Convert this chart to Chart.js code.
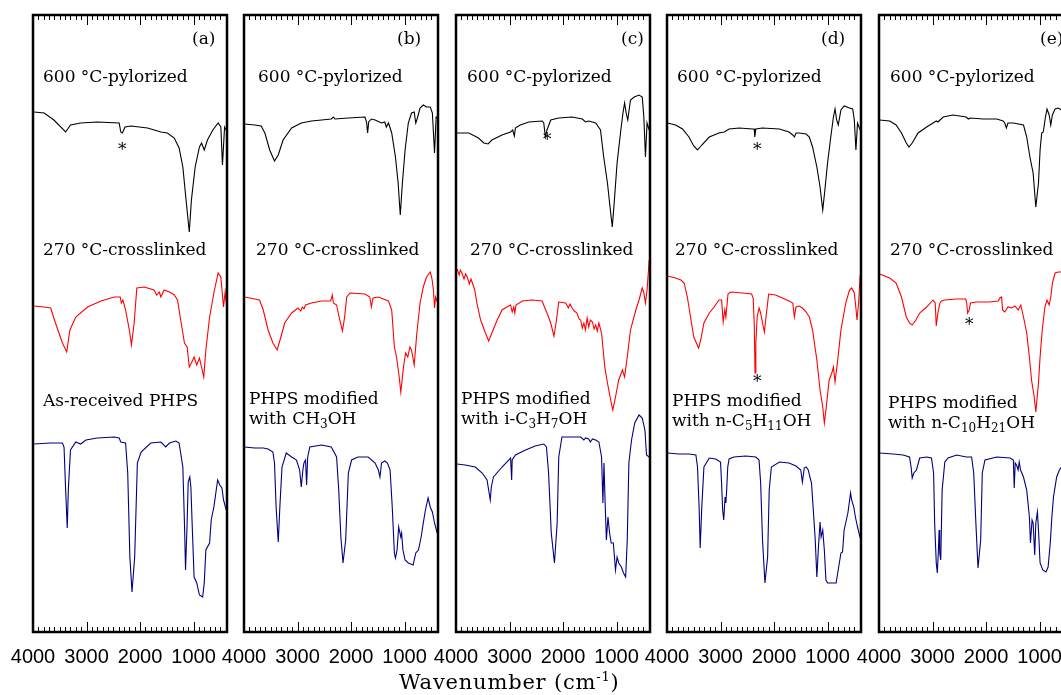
<!DOCTYPE html>
<html>
<head>
<meta charset="utf-8">
<script src="https://cdn.jsdelivr.net/npm/chart.js@4.4.1/dist/chart.umd.min.js"></script>
<style>
body { margin: 0; width: 1061px; height: 695px; overflow: hidden; background: #fff; position: relative; }
canvas.panel { position: absolute; top: 0; }
.lbl { position: absolute; font: 17px/20px 'DejaVu Serif'; white-space: nowrap; color: #000; }
.lbl sub { font-size: 12px; vertical-align: -4px; line-height: 0; }
.title { position: absolute; left: 399px; top: 670px; font: 21px/24px 'DejaVu Serif'; letter-spacing: 0.8px; white-space: nowrap; }
.title sup { font-size: 13px; vertical-align: 8px; line-height: 0; }
</style>
</head>
<body>
<canvas class="panel" id="pa" width="254" height="695"></canvas>
<canvas class="panel" id="pb" width="254" height="695"></canvas>
<canvas class="panel" id="pc" width="254" height="695"></canvas>
<canvas class="panel" id="pd" width="254" height="695"></canvas>
<canvas class="panel" id="pe" width="254" height="695"></canvas>

<div class="lbl" style="left:192px;top:28px">(a)</div>
<div class="lbl" style="left:397px;top:28px">(b)</div>
<div class="lbl" style="left:621px;top:28px">(c)</div>
<div class="lbl" style="left:821px;top:28px">(d)</div>
<div class="lbl" style="left:1040px;top:28px">(e)</div>

<div class="lbl" style="left:43px;top:66px">600 °C-pylorized</div>
<div class="lbl" style="left:258px;top:66px">600 °C-pylorized</div>
<div class="lbl" style="left:467px;top:66px">600 °C-pylorized</div>
<div class="lbl" style="left:677px;top:66px">600 °C-pylorized</div>
<div class="lbl" style="left:890px;top:66px">600 °C-pylorized</div>

<div class="lbl" style="left:43px;top:239px">270 °C-crosslinked</div>
<div class="lbl" style="left:256px;top:239px">270 °C-crosslinked</div>
<div class="lbl" style="left:470px;top:239px">270 °C-crosslinked</div>
<div class="lbl" style="left:675px;top:239px">270 °C-crosslinked</div>
<div class="lbl" style="left:890px;top:239px">270 °C-crosslinked</div>

<div class="lbl" style="left:43px;top:390px">As-received PHPS</div>
<div class="lbl" style="left:249px;top:388px">PHPS modified<br>with CH<sub>3</sub>OH</div>
<div class="lbl" style="left:461px;top:388px">PHPS modified<br>with i-C<sub>3</sub>H<sub>7</sub>OH</div>
<div class="lbl" style="left:672px;top:390px">PHPS modified<br>with n-C<sub>5</sub>H<sub>11</sub>OH</div>
<div class="lbl" style="left:888px;top:392px">PHPS modified<br>with n-C<sub>10</sub>H<sub>21</sub>OH</div>

<div class="lbl" style="left:118px;top:139px">*</div>
<div class="lbl" style="left:543px;top:129px">*</div>
<div class="lbl" style="left:753px;top:139px">*</div>
<div class="lbl" style="left:753px;top:371px">*</div>
<div class="lbl" style="left:965px;top:314px">*</div>

<div class="title">Wavenumber (cm<sup>-1</sup>)</div>

<script>
// wavenumber (cm-1), offset transmittance (a.u.)
const blackA = [[3980,52.0],[3790,51.9],[3610,51.2],[3390,50.0],[3300,50.7],[3110,50.9],[2800,51.0],[2390,50.9],[2360,50.0],[2330,49.9],[2280,50.5],[2170,50.6],[1860,50.4],[1610,50.0],[1490,49.9],[1360,49.4],[1270,48.4],[1200,46.5],[1140,43.2],[1080,40.0],[1040,43.2],[970,46.5],[890,48.5],[850,48.9],[800,48.2],[740,49.2],[640,50.2],[540,50.9],[490,50.5],[460,46.7],[420,50.5],[390,50.2]];
const redA = [[3980,32.6],[3790,32.5],[3670,32.4],[3580,30.9],[3450,28.9],[3370,28.0],[3310,30.2],[3200,31.5],[2980,32.5],[2730,33.1],[2480,33.5],[2370,33.5],[2350,32.9],[2320,33.2],[2270,32.2],[2200,30.2],[2160,28.7],[2110,30.9],[2060,34.4],[1920,34.5],[1740,34.2],[1690,33.7],[1640,34.0],[1610,33.5],[1550,34.2],[1450,34.0],[1360,33.7],[1300,33.2],[1240,31.2],[1170,28.9],[1120,28.5],[1080,26.5],[1040,26.9],[990,27.5],[940,26.7],[890,27.4],[850,26.5],[810,25.5],[770,28.2],[700,31.5],[610,34.2],[540,35.9],[490,35.5],[440,32.5],[410,34.0],[380,32.5]];
const blueA = [[3980,18.8],[3670,18.9],[3450,18.9],[3420,18.5],[3390,14.2],[3360,10.4],[3340,14.2],[3300,18.2],[3200,19.0],[3110,18.8],[3010,19.2],[2800,19.4],[2480,19.5],[2390,19.4],[2360,19.0],[2270,18.9],[2230,15.9],[2190,7.5],[2150,4.0],[2100,7.5],[2050,16.9],[1980,18.0],[1800,18.9],[1610,19.0],[1520,18.5],[1450,18.9],[1330,19.1],[1270,18.9],[1200,16.5],[1170,10.9],[1150,6.2],[1120,10.9],[1100,15.0],[1070,15.5],[1050,14.5],[1020,9.9],[990,5.5],[940,4.9],[890,3.7],[830,3.5],[800,4.9],[770,8.2],[700,8.9],[670,11.2],[620,12.5],[550,15.2],[510,14.7],[470,14.4],[440,13.2],[390,12.2]];

const blackB = [[3990,50.8],[3800,50.7],[3680,50.6],[3610,49.9],[3520,48.2],[3430,47.1],[3360,47.7],[3270,49.2],[3110,50.4],[2930,50.9],[2740,51.1],[2550,51.2],[2370,51.3],[2330,51.5],[2300,51.3],[2050,51.4],[1740,51.5],[1710,51.0],[1690,49.9],[1670,51.0],[1620,51.3],[1550,51.2],[1430,50.9],[1370,51.0],[1340,50.5],[1300,50.9],[1240,49.9],[1170,47.5],[1120,44.9],[1080,41.7],[1040,44.9],[990,48.2],[930,50.9],[870,51.9],[820,52.0],[790,50.9],[760,51.4],[710,52.4],[650,52.7],[590,52.5],[520,52.5],[480,51.9],[440,47.9],[410,51.5],[380,51.4]];
const redB = [[3990,33.5],[3800,33.3],[3710,33.2],[3640,32.2],[3550,30.2],[3460,28.9],[3380,28.2],[3310,29.5],[3240,30.9],[3110,31.9],[2990,32.4],[2940,32.1],[2910,32.5],[2880,32.3],[2850,32.7],[2740,32.9],[2550,33.1],[2380,33.1],[2350,33.7],[2330,32.9],[2270,32.7],[2210,31.2],[2160,30.1],[2120,31.5],[2080,33.5],[2020,33.9],[1740,33.8],[1650,33.5],[1620,32.5],[1590,33.4],[1490,33.5],[1300,33.1],[1240,32.2],[1190,28.5],[1150,27.5],[1100,25.5],[1070,24.0],[1020,26.5],[980,27.9],[940,27.5],[900,28.5],[870,28.2],[820,26.7],[770,29.9],[710,32.9],[650,34.5],[590,35.5],[520,36.0],[490,35.4],[460,34.2],[440,32.4],[420,33.5],[380,32.9]];
const blueB = [[3990,18.5],[3800,18.4],[3640,18.4],[3550,18.3],[3460,18.0],[3430,16.9],[3400,12.5],[3360,9.0],[3330,12.5],[3290,16.5],[3210,17.9],[3110,17.5],[3020,17.2],[2960,16.2],[2930,14.5],[2900,16.2],[2880,16.9],[2850,17.2],[2830,14.7],[2810,17.5],[2770,18.5],[2550,18.7],[2370,18.5],[2270,17.5],[2230,14.2],[2190,9.5],[2150,6.9],[2100,9.2],[2050,15.9],[1990,17.2],[1870,17.5],[1680,17.5],[1550,16.9],[1490,16.2],[1460,15.5],[1430,16.9],[1370,17.1],[1320,16.9],[1270,16.2],[1230,12.5],[1190,7.9],[1170,7.4],[1140,8.2],[1110,10.5],[1070,9.5],[1055,9.9],[1030,8.2],[990,7.2],[930,6.9],[840,6.7],[790,7.9],[740,8.2],[690,9.5],[650,10.9],[610,12.2],[560,13.4],[520,12.5],[480,12.0],[440,10.9],[390,9.9]];

const blackC = [[3980,49.9],[3760,49.9],[3580,49.4],[3480,48.9],[3400,48.8],[3330,49.2],[3140,49.7],[2980,50.0],[2940,50.2],[2910,49.6],[2890,50.4],[2800,50.7],[2640,51.0],[2390,51.1],[2360,50.9],[2330,49.5],[2300,50.2],[2230,51.2],[2080,51.4],[1830,51.5],[1640,51.3],[1580,51.0],[1520,51.1],[1390,50.9],[1300,50.2],[1240,47.5],[1170,44.9],[1130,42.9],[1080,40.5],[1040,43.2],[990,46.9],[920,50.2],[880,51.9],[850,52.9],[820,51.9],[790,51.2],[740,53.2],[670,53.5],[580,53.7],[520,53.5],[490,51.5],[460,47.5],[430,50.9],[390,50.2]];
const redC = [[3980,36.3],[3940,35.7],[3920,36.2],[3890,35.9],[3850,35.3],[3820,35.8],[3790,35.5],[3750,34.8],[3720,35.3],[3700,35.0],[3650,34.2],[3610,32.9],[3540,31.2],[3450,29.9],[3390,29.1],[3330,29.9],[3230,31.2],[3140,32.2],[3050,32.5],[2980,32.7],[2950,32.0],[2920,32.5],[2900,31.9],[2880,32.7],[2760,33.1],[2580,33.2],[2390,33.1],[2340,32.4],[2300,31.9],[2230,30.9],[2170,29.6],[2130,30.9],[2080,33.0],[1950,32.9],[1900,32.4],[1870,32.8],[1830,32.4],[1790,32.1],[1740,31.9],[1700,31.3],[1670,31.2],[1640,30.4],[1610,30.9],[1580,30.2],[1550,31.4],[1520,30.5],[1490,31.2],[1450,31.0],[1420,30.3],[1390,30.7],[1360,30.1],[1330,30.9],[1280,29.9],[1220,26.5],[1170,24.9],[1110,23.2],[1070,22.2],[1020,23.5],[960,25.2],[890,26.2],[850,25.5],[800,27.5],[740,30.2],[640,32.2],[580,33.2],[520,34.4],[490,33.9],[460,32.9],[430,34.2],[390,37.2]];
const blueC = [[3980,16.8],[3830,16.7],[3640,16.5],[3510,15.9],[3420,15.2],[3390,14.2],[3360,13.2],[3340,14.5],[3300,15.5],[3140,16.5],[3010,17.2],[2980,17.4],[2960,15.2],[2950,17.2],[2890,17.7],[2700,18.2],[2520,18.6],[2360,18.8],[2310,18.5],[2270,15.9],[2220,9.9],[2160,6.9],[2110,10.9],[2080,17.5],[2020,19.5],[1830,19.5],[1670,19.5],[1610,19.2],[1580,19.4],[1520,19.3],[1490,19.0],[1450,19.3],[1390,19.2],[1330,19.0],[1280,17.5],[1255,12.9],[1235,16.9],[1215,13.2],[1190,9.2],[1160,11.5],[1130,9.9],[1100,8.9],[1060,8.9],[1020,6.2],[990,7.5],[960,6.9],[910,6.5],[870,5.9],[830,5.5],[800,9.2],[770,16.9],[720,19.2],[660,20.9],[580,21.7],[520,21.4],[470,20.2],[440,17.7],[390,17.5]];

const blackD = [[3990,50.9],[3840,50.7],[3710,50.3],[3590,49.5],[3500,48.6],[3430,48.2],[3350,48.7],[3210,49.5],[3030,49.9],[2930,50.0],[2840,50.3],[2650,50.4],[2400,50.3],[2370,50.3],[2360,49.5],[2340,50.3],[2220,50.4],[1900,50.3],[1720,50.0],[1650,49.7],[1620,49.5],[1590,49.9],[1530,49.9],[1400,49.8],[1340,49.5],[1280,48.5],[1200,46.5],[1140,44.5],[1090,42.2],[1050,44.2],[1000,46.9],[940,49.5],[890,51.5],[860,52.3],[830,51.2],[800,50.7],[750,52.2],[690,52.6],[590,52.4],[530,52.3],[500,51.2],[470,48.2],[440,50.9],[390,50.2]];
const redD = [[3990,35.6],[3840,35.4],[3740,35.2],[3680,34.9],[3620,33.5],[3560,31.5],[3500,29.5],[3410,28.4],[3370,29.2],[3310,30.9],[3210,31.9],[3120,32.5],[3030,33.2],[2980,33.2],[2950,31.0],[2920,32.2],[2900,31.5],[2860,33.8],[2810,34.0],[2590,33.9],[2420,33.8],[2390,33.4],[2370,30.9],[2355,25.9],[2340,28.9],[2315,31.5],[2280,32.4],[2250,31.9],[2215,30.9],[2180,30.0],[2150,31.5],[2100,33.8],[1970,33.7],[1720,33.1],[1650,32.9],[1620,31.5],[1590,32.5],[1530,32.6],[1470,32.4],[1400,32.0],[1340,31.5],[1280,30.2],[1200,27.2],[1140,24.2],[1090,22.5],[1060,20.9],[1030,22.2],[970,25.2],[920,25.9],[890,26.5],[860,25.0],[810,27.2],[750,30.2],[660,32.9],[590,34.2],[550,34.4],[500,33.9],[470,32.4],[450,31.2],[420,32.9],[390,35.7]];
const blueD = [[3990,17.9],[3780,17.8],[3590,17.8],[3460,17.7],[3430,16.5],[3400,12.5],[3380,8.4],[3350,12.5],[3310,16.5],[3210,17.4],[3090,17.3],[3000,17.0],[2980,14.9],[2960,12.2],[2940,11.2],[2915,13.5],[2900,12.9],[2885,14.2],[2865,16.5],[2840,17.3],[2750,17.5],[2530,17.6],[2340,17.5],[2280,17.2],[2250,14.9],[2215,9.2],[2170,4.9],[2120,7.5],[2090,14.2],[2050,16.5],[1900,17.0],[1720,16.9],[1590,16.6],[1500,16.2],[1470,15.0],[1435,16.4],[1400,16.5],[1360,16.2],[1330,15.5],[1300,14.9],[1270,12.5],[1230,9.2],[1200,5.5],[1170,8.5],[1140,11.0],[1120,9.5],[1090,10.2],[1060,8.2],[1030,5.2],[1000,4.9],[900,4.9],[840,4.9],[810,5.9],[750,7.9],[720,8.0],[690,10.2],[620,11.9],[570,13.9],[550,13.2],[510,12.5],[480,11.5],[440,10.5],[390,9.4]];

const blackE = [[3990,51.2],[3800,51.1],[3680,50.7],[3580,49.9],[3490,48.9],[3440,48.5],[3380,48.9],[3270,49.9],[3110,50.5],[2960,51.0],[2930,51.1],[2900,51.0],[2800,51.5],[2620,51.7],[2370,51.5],[2330,51.3],[2300,51.4],[2050,51.3],[1800,51.3],[1680,51.1],[1650,50.9],[1620,50.4],[1590,50.9],[1490,50.9],[1300,50.7],[1240,49.5],[1180,47.5],[1120,45.9],[1070,42.5],[1020,44.9],[990,48.2],[960,49.9],[930,50.0],[890,51.5],[860,52.3],[820,51.7],[790,50.7],[760,51.7],[710,52.3],[650,52.4],[590,52.2]];
const redE = [[3990,35.8],[3800,35.4],[3680,34.9],[3580,33.5],[3490,31.5],[3430,30.9],[3380,30.7],[3310,31.2],[3240,31.9],[3110,32.5],[2990,33.2],[2950,32.9],[2930,30.6],[2900,31.9],[2860,32.9],[2830,33.1],[2770,33.2],[2550,33.3],[2380,33.3],[2360,32.9],[2345,31.9],[2315,32.2],[2290,32.9],[2180,33.0],[1930,33.0],[1770,33.1],[1740,33.4],[1710,33.5],[1690,32.2],[1650,32.0],[1590,32.5],[1520,32.4],[1460,32.6],[1400,32.2],[1350,32.7],[1300,31.5],[1240,29.9],[1190,27.5],[1150,25.2],[1100,23.5],[1070,22.0],[1020,24.9],[990,27.5],[950,30.2],[900,32.5],[860,33.2],[820,32.7],[790,33.5],[760,34.9],[710,35.9],[650,36.0],[590,36.0]];
const blueE = [[3990,17.9],[3740,17.8],[3550,17.7],[3430,17.5],[3400,16.5],[3380,15.4],[3350,15.9],[3300,16.2],[3240,17.4],[3110,17.5],[3020,17.4],[2980,15.9],[2960,10.9],[2930,6.9],[2910,5.9],[2890,8.2],[2877,10.2],[2865,7.9],[2846,7.2],[2820,14.2],[2770,17.0],[2710,17.4],[2550,17.7],[2370,17.5],[2270,17.5],[2230,15.9],[2190,10.9],[2150,6.4],[2100,9.2],[2070,15.9],[2020,17.2],[1800,17.5],[1550,17.4],[1490,17.2],[1473,14.4],[1455,16.9],[1430,16.7],[1400,16.2],[1380,17.0],[1355,16.2],[1300,15.5],[1240,14.2],[1190,11.5],[1170,8.9],[1140,11.2],[1120,10.9],[1090,7.7],[1070,10.9],[1040,12.0],[1020,10.2],[990,6.9],[940,6.2],[880,6.0],[840,6.5],[800,8.9],[770,11.5],[740,13.5],[680,15.5],[630,16.2],[590,16.5]];

const traceNames = ['600 °C-pylorized', '270 °C-crosslinked', 'as-received / modified'];
const traceColors = ['#000000', '#ff0000', '#000080'];
const xTicks = [4000, 3000, 2000, 1000];

// inward ticks on top and bottom plus the box
const framePlugin = {
    id: 'frame',
    afterDatasetsDraw(chart) {
        const ctx = chart.ctx;
        const area = chart.chartArea;
        const x = chart.scales.x;
        ctx.save();
        ctx.strokeStyle = '#000';
        ctx.lineWidth = 1;
        for (let v = 400; v < 4000; v += 100) {
            const px = Math.round(x.getPixelForValue(v)) + 0.5;
            const len = v % 1000 === 0 ? 10 : 5;
            ctx.beginPath();
            ctx.moveTo(px, area.bottom);
            ctx.lineTo(px, area.bottom - len);
            ctx.moveTo(px, area.top);
            ctx.lineTo(px, area.top + len);
            ctx.stroke();
        }
        ctx.lineWidth = 2.5;
        ctx.strokeRect(area.left, area.top, area.right - area.left, area.bottom - area.top);
        ctx.restore();
    }
};

function drawPanel(canvasId, left, series) {
    const el = document.getElementById(canvasId);
    el.style.left = (left - 30) + 'px';
    return new Chart(el, {
        type: 'line',
        plugins: [framePlugin],
        data: {
            datasets: series.map((s, i) => ({
                label: traceNames[i],
                data: s.map(p => ({x: p[0], y: p[1]})),
                borderColor: traceColors[i],
                borderWidth: 1.1,
                pointRadius: 0,
                tension: 0,
                fill: false
            }))
        },
        options: {
            responsive: false,
            animation: false,
            layout: { padding: { left: 30, right: 30, top: 15, bottom: 0 } },
            plugins: {
                legend: { display: false },
                tooltip: { enabled: false }
            },
            scales: {
                x: {
                    type: 'linear',
                    reverse: true,
                    min: 375,
                    max: 4000,
                    grid: { display: false, drawTicks: false },
                    border: { display: false },
                    afterBuildTicks: axis => { axis.ticks = xTicks.map(v => ({value: v})); },
                    afterFit: axis => { axis.paddingLeft = 0; axis.paddingRight = 0; axis.height = 63; },
                    ticks: {
                        padding: 13,
                        maxRotation: 0,
                        autoSkip: false,
                        color: '#000',
                        font: { family: 'Liberation Sans', size: 20 },
                        callback: v => String(v)
                    }
                },
                y: { display: false, min: 0, max: 61.7 }
            }
        }
    });
}

drawPanel('pa', 33, [blackA, redA, blueA]);
drawPanel('pb', 244.2, [blackB, redB, blueB]);
drawPanel('pc', 455.6, [blackC, redC, blueC]);
drawPanel('pd', 666.9, [blackD, redD, blueD]);
drawPanel('pe', 878.6, [blackE, redE, blueE]);
</script>
</body>
</html>
